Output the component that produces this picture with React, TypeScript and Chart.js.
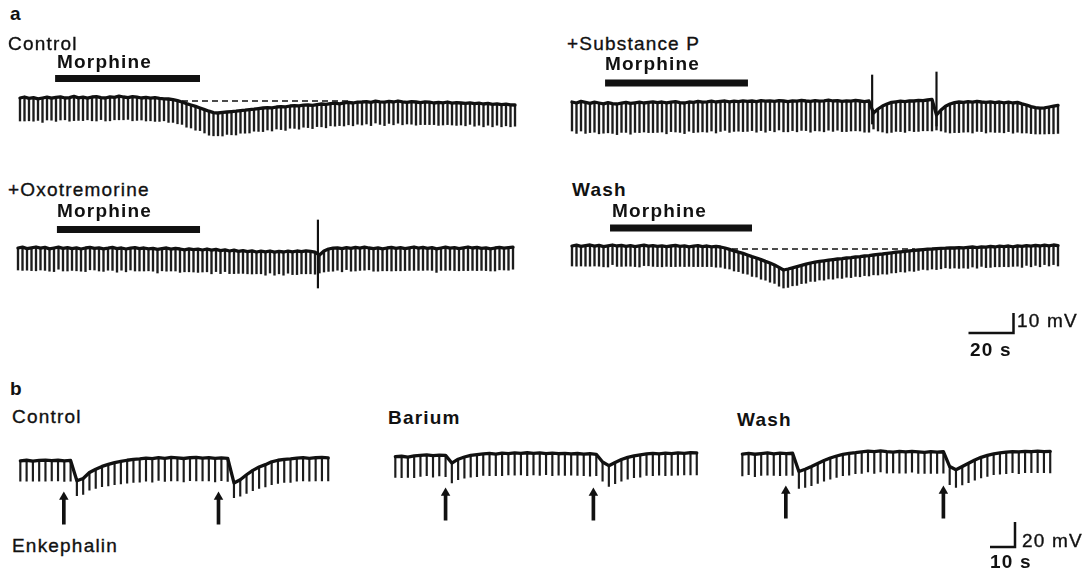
import React, { useEffect, useRef } from "react";
import { Chart, registerables } from "chart.js";
Chart.register(...registerables);

// ================= DATA =================
// Panel a: hyperpolarizing pulses every 2 s; membrane potential in mV relative to resting level
const A_PULSE_INTERVAL_S = 2;
// Panel b: pulses every 2.6 s
const B_PULSE_INTERVAL_S = 2.6;

// a — Control
const CA_BASE = [
  1.0, 1.5, 0.8, 1.2, 0.6, 1.0, 1.4, 0.9, 1.3, 1.6, 1.0, 1.2, 1.8, 1.1, 1.4, 0.9, 1.5, 1.7, 1.2, 1.0,
  1.6, 1.3, 1.9, 1.5, 1.2, 1.7, 1.4, 1.0, 1.3, 0.9, 1.2, 0.8, 0.6, 0.5, 0.2,
  -0.3, -1.0, -1.8, -2.5, -3.2, -4.0, -4.8, -5.6, -6.3,
  -6.5, -6.2, -6.0, -5.8,
  -5.6, -5.3, -5.1, -4.8, -4.6, -4.3, -4.0,
  -3.8, -3.9, -3.5, -3.3, -3.4, -3.0, -2.8, -2.9, -2.6, -2.5, -2.7,
  -2.3, -2.0, -2.2, -1.8, -1.6, -1.9, -1.4, -1.2, -1.5, -1.1, -1.0,
  -0.8, -1.2, -0.6, -0.9, -1.1, -0.7, -1.0, -0.5, -0.9, -1.2, -0.8, -1.0,
  -1.3, -0.9, -1.1, -1.5, -1.2, -1.4, -1.0, -1.6, -1.3, -1.5, -1.7,
  -1.4, -1.8, -1.6, -2.0, -1.7, -2.2, -1.9, -2.3, -2.1, -2.4, -2.5,
];
const CA_DEPTH = [
  11.5, 12.0, 11.2, 11.8, 10.8, 12.2, 11.4, 11.0, 12.0, 11.6, 10.9, 11.8, 12.1, 11.3, 11.7, 10.8, 11.9, 12.2, 11.0, 11.5,
  12.0, 11.2, 11.8, 11.4, 10.9, 12.1, 11.6, 11.0, 11.8, 11.3, 11.9, 11.5, 11.0, 11.7, 11.4,
  11.6, 11.2, 11.8, 11.5, 11.9, 11.3, 11.7, 12.0, 11.6,
  11.4, 11.8, 11.2, 11.6, 11.9, 11.3, 11.5, 11.7, 11.0, 11.4, 11.8,
  11.2, 11.6, 11.0, 11.5, 11.8, 11.1, 11.4, 11.7, 11.0, 11.3, 11.6,
  11.0, 11.4, 11.7, 11.1, 11.5, 10.9, 11.6, 11.2, 11.4, 11.0, 11.5,
  11.2, 11.6, 10.9, 11.3, 11.7, 11.0, 11.4, 11.1, 11.5, 10.8, 11.3, 11.6,
  11.0, 11.4, 11.2, 10.8, 11.5, 11.1, 11.3, 10.9, 11.4, 11.0, 11.2,
  10.8, 11.3, 11.0, 11.4, 10.9, 11.2, 10.7, 11.1, 10.8, 11.0, 10.6,
];
const CA_MORPHINE_S = [15.6, 80.0];
const CA_DASH_S = [72, 146];
const CA_DASH_MV = -0.5;

// a — +Substance P
const SP_BASE = [
  0.5, 0.0, 0.8, 0.3, -0.2, 0.4, 0.0, -0.4, 0.2, -0.3,
  -0.5, -0.1, 0.3, -0.2, 0.1, 0.4, 0.0, 0.3, 0.6, 0.2,
  0.5, 0.1, 0.4, 0.7, 0.2, 0.0, 0.5, 0.3, 0.8, 0.4,
  0.6, 0.9, 0.5, 0.8, 1.0, 0.6, 0.9, 0.7, 1.1, 0.8,
  1.0, 0.7, 1.2, 0.9, 1.1, 0.8, 1.2, 1.0, 0.7, 1.1,
  0.9, 1.3, 1.0, 0.8, 1.2, 0.9, 1.1, 1.4, 1.0, 1.2,
  0.8, 1.1, 0.9, 1.3, 1.0, 0.7, 1.0,
  -5.0, -3.0, -1.5, -0.5,
  0.3, 0.6, 0.9, 0.7, 1.1, 1.0, 1.3, 1.2, 1.5, 1.8,
  -6.0, -3.5, -1.6, -0.5,
  0.2, 0.5, 0.3, 0.7, 0.4, 0.8, 0.5, 0.3, 0.6, 0.2, 0.5, 0.1, 0.4, 0.0, 0.3,
  -0.4, -1.0, -1.8, -2.3, -2.6, -2.4, -2.0, -1.6, -1.2,
];
const SP_DEPTH = [
  14.5, 15.2, 14.8, 15.5, 14.6, 15.0, 15.4, 14.7, 15.1, 14.9,
  15.3, 14.6, 15.0, 15.4, 14.8, 15.2, 14.5, 15.1, 15.4, 14.9,
  15.0, 15.5, 14.7, 15.2, 14.9, 15.3, 14.6, 15.1, 15.4, 14.8,
  15.2, 14.9, 15.5, 15.0, 14.7, 15.3, 15.1, 14.8, 15.4, 15.0,
  14.8, 15.3, 15.0, 15.5, 14.9, 15.2, 14.7, 15.4, 15.1, 14.9,
  15.3, 15.0, 14.8, 15.4, 15.1, 14.9, 15.5, 15.0, 15.2, 14.8,
  15.1, 15.4, 14.9, 15.2, 15.0, 15.3, 15.6,
  8.0, 11.0, 13.0, 14.5,
  15.0, 14.8, 15.2, 15.4, 15.0, 15.3, 15.5, 15.1, 15.4, 15.8,
  7.5, 10.5, 13.0, 14.5,
  15.0, 15.3, 14.9, 15.2, 15.4, 15.0, 14.8, 15.3, 15.1, 14.9, 15.2, 15.0, 14.7, 15.1, 14.9,
  14.6, 14.0, 13.5, 13.2, 12.9, 13.1, 13.4, 13.8, 14.0,
];
const SP_MORPHINE_S = [14.7, 78.2];
const SP_SPIKE_T = [133.4, 162.0];
const SP_SPIKE_TOP = [14.0, 15.5];
const SP_SPIKE_BOTTOM = [-10.5, -11.5];

// a — +Oxotremorine
const OX_BASE = [
  0.5, 0.9, 0.2, 0.6, 1.0, 0.4, 0.8, 0.1, 0.5, 0.9,
  0.3, 0.7, 0.2, 0.6, 0.0, 0.5, 0.8, 0.3, 0.6, 0.1,
  0.4, 0.8, 0.2, 0.5, 0.0, 0.4, 0.7, 0.2, 0.5, 0.1,
  0.3, -0.2, 0.2, 0.5, -0.1, 0.3, 0.0, -0.4, 0.1, -0.3,
  -0.1, -0.5, 0.0, -0.6, -0.2, -0.8, -0.4, -1.0, -0.6, -1.2,
  -0.8, -1.3, -0.9, -1.5, -1.1, -1.4, -1.0, -1.6, -1.2, -1.5,
  -1.1, -1.4, -1.0, -1.3, -0.9, -1.2, -1.6,
  -3.0, -1.0, 0.0, 0.4,
  0.6, 0.2, 0.7, 0.3, 0.8, 0.4, 0.9, 0.5, 0.2, 0.6,
  0.1, 0.5, 0.8, 0.3, 0.7, 0.2, 0.6, 1.0, 0.4, 0.8,
  0.3, 0.7, 0.1, 0.5, 0.9, 0.4, 0.7, 0.2, 0.6, 1.0,
  0.5, 0.8, 0.3, 0.6, 0.1, 0.5, 0.8, 0.4, 0.7, 0.9,
];
const OX_DEPTH = [
  11.0, 11.6, 10.8, 11.4, 11.9, 10.9, 11.5, 11.2, 11.8, 11.0,
  11.3, 11.7, 10.9, 11.5, 11.1, 11.8, 11.2, 10.8, 11.6, 11.3,
  11.0, 11.5, 11.8, 11.1, 11.4, 10.9, 11.7, 11.2, 11.5, 11.0,
  11.4, 11.8, 11.1, 11.6, 10.9, 11.3, 11.7, 11.0, 11.5, 11.2,
  11.6, 11.0, 11.4, 11.8, 11.1, 11.5, 10.9, 11.3, 11.7, 11.0,
  11.4, 11.1, 11.6, 10.9, 11.3, 11.7, 11.0, 11.5, 11.2, 11.6,
  11.0, 11.4, 11.8, 11.1, 11.5, 11.2, 11.0,
  9.0, 10.5, 11.2, 11.5,
  11.2, 11.6, 11.0, 11.4, 11.8, 11.1, 11.5, 10.9, 11.3, 11.7,
  11.0, 11.4, 11.8, 11.2, 11.6, 11.0, 11.3, 11.7, 11.1, 11.5,
  10.9, 11.4, 11.8, 11.2, 11.6, 11.0, 11.5, 11.1, 11.4, 11.8,
  11.2, 11.6, 11.0, 11.4, 11.1, 11.5, 11.2, 10.9, 11.3, 11.0,
];
const OX_MORPHINE_S = [17.3, 80.9];
const OX_SPIKE_T = [133.3];
const OX_SPIKE_TOP = [14.5];
const OX_SPIKE_BOTTOM = [-19.5];

// a — Wash
const WA_BASE = [
  0.5, 0.9, 0.3, 0.7, 1.0, 0.4, 0.8, 0.2, 0.6, 1.0,
  0.5, 0.8, 0.3, 0.7, 0.2, 0.6, 0.9, 0.4, 0.7, 0.3,
  0.6, 0.2, 0.5, 0.8, 0.3, 0.6, 0.1, 0.4, 0.7, 0.2,
  0.5, 0.1, 0.3, 0.0,
  -0.5, -1.2, -1.9, -2.6, -3.2, -4.0, -4.8, -5.5, -6.3, -7.2, -8.0, -9.0, -10.2, -11.5,
  -11.0, -10.4, -9.8, -9.2, -8.6, -8.0, -7.6, -7.2, -6.9, -6.6,
  -6.3, -6.0, -5.8, -5.5, -5.3, -5.0, -4.8, -4.5, -4.3, -4.0, -3.7, -3.5, -3.2, -2.9, -2.6,
  -2.4, -2.2, -1.9, -1.7, -1.5, -1.3, -1.1, -1.0, -0.8, -0.7, -0.6, -0.4, -0.5, -0.3, -0.4,
  -0.2, 0.0, -0.3, 0.1, -0.1, 0.3, 0.0, 0.4, 0.2, 0.5, 0.1, 0.6, 0.3, 0.7, 0.4, 0.8, 0.5, 0.9, 0.6, 1.0, 0.7,
];
const WA_DEPTH = [
  10.0, 10.5, 9.8, 10.3, 10.6, 9.9, 10.4, 10.1, 10.6, 9.8,
  10.2, 10.5, 9.9, 10.3, 10.0, 10.6, 10.2, 9.8, 10.4, 10.1,
  10.5, 9.9, 10.3, 10.6, 10.0, 10.4, 9.8, 10.2, 10.5, 10.0,
  10.3, 9.9, 10.4, 10.1,
  10.2, 9.8, 10.1, 9.7, 10.0, 9.6, 9.9, 9.5, 9.8, 9.4, 9.6, 9.2, 9.4, 9.0,
  9.2, 9.0, 9.4, 9.1, 9.5, 9.2, 9.6, 9.3, 9.7, 9.4,
  9.8, 9.5, 9.9, 9.6, 10.0, 9.7, 10.1, 9.8, 10.2, 9.9, 10.3, 10.0, 10.4, 10.1, 10.3,
  10.0, 10.4, 10.1, 10.5, 10.2, 9.9, 10.4, 10.0, 10.5, 10.2, 9.8, 10.3, 10.0, 10.4, 10.1,
  10.5, 10.0, 10.3, 9.8, 10.2, 10.5, 9.9, 10.3, 10.0, 10.4, 9.8, 10.2, 10.5, 9.9, 10.3, 10.0, 10.4, 9.7, 10.1, 9.8, 10.2,
];
const WA_MORPHINE_S = [16.9, 80.0];
const WA_DASH_S = [71.1, 152.4];
const WA_DASH_MV = -1.0;

// b — Control
const CB_BASE = [
  -2.4, -1.8, -2.6, -2.0, -1.6, -2.2, -1.8, -2.4,
  -2.0,
  -20.5, -18.4, -13.0, -10.0, -7.4, -5.6, -4.0, -2.9, -1.8, -1.0, -0.6,
  0.2, -0.4, 0.6, 0.0, 0.8, 0.3, -0.2, 0.5, 0.9, 0.2, 0.6, -0.1, 0.4, 0.0,
  -22.5, -19.5, -15.0, -11.0, -8.0, -5.8, -3.2, -1.8, -1.0, -0.5,
  0.2, 0.6, 0.0, 0.5, 0.8, 0.3,
];
const CB_DEPTH = [
  18.5, 19.0, 18.2, 18.8, 19.2, 18.4, 18.9, 18.6,
  18.8,
  13.5, 14.5, 16.0, 17.5, 18.5, 19.5, 20.0, 20.5, 20.8, 21.0, 21.2,
  21.0, 21.4, 20.8, 21.2, 21.5, 20.9, 21.3, 21.0, 21.6, 20.8, 21.2, 21.4, 20.9, 21.1,
  13.5, 15.0, 17.0, 18.5, 19.5, 20.2, 20.8, 21.2, 21.0, 21.4,
  21.0, 21.3, 20.8, 21.2, 21.5, 21.0,
];
const CB_ENKEPHALIN_S = [18.0, 82.0];

// b — Barium
const BB_BASE = [
  -2.2, -1.8, -2.5, -1.5, -1.0, -0.6, -1.2, -0.8,
  -1.0,
  -8.0, -4.5, -2.5, -1.0, -0.3,
  0.4, 0.8, 0.2, 1.0, 0.6, 1.2, 0.8, 1.4, 0.9, 1.2, 0.6, 1.0, 0.5, 0.9, 0.3, 0.7, 0.2, 0.5, 0.0,
  -7.0, -10.4, -7.5, -4.8, -2.8, -1.5, -0.5,
  0.3, 0.8, 0.4, 1.0, 0.6, 1.2, 0.9, 1.5, 1.2,
];
const BB_DEPTH = [
  19.0, 19.5, 18.6, 19.8, 19.2, 18.8, 19.6, 19.0, 19.4, 18.0,
  18.6, 19.2, 19.8, 20.2, 19.6, 20.4, 19.8, 20.6, 19.4, 20.2,
  19.6, 20.8, 19.8, 20.4, 19.2, 20.6, 19.6, 20.2, 19.4, 20.0,
  19.8, 20.4, 19.6, 17.5, 18.8, 19.2, 19.6, 20.0, 19.8, 20.4,
  19.6, 20.2, 19.4, 20.6, 19.8, 20.2, 19.6, 20.4, 20.0,
];
const BB_ENKEPHALIN_S = [20.8, 82.0];

// b — Wash
const WB_BASE = [
  -1.6, -1.0, -1.8, -1.2, -0.6, -1.4, -0.8, -1.2, -0.9,
  -17.5, -15.5, -13.0, -10.2, -7.5, -5.2, -3.4, -2.0, -1.0, -0.4,
  0.4, 1.0, 0.5, 1.2, 0.6, 0.2, 0.8, 0.3, 0.9, 0.4, 0.0, 0.6, 0.2, 0.5,
  -13.0, -16.0, -13.0, -10.0, -7.0, -4.6, -2.8, -1.4, -0.6,
  0.2, 0.6, 0.3, 0.9, 0.5, 1.0, 0.6, 0.9,
];
const WB_DEPTH = [
  20.0, 19.4, 20.4, 19.8, 20.2, 19.6, 20.6, 19.8, 20.2,
  15.5, 16.5, 17.5, 18.2, 18.8, 19.2, 19.6, 19.4, 19.8, 19.2,
  19.6, 19.0, 19.8, 19.2, 19.6, 19.0, 19.8, 19.4, 19.0, 19.6, 19.2, 19.8, 19.4, 19.6,
  16.5, 16.0, 16.8, 17.6, 18.4, 18.8, 19.2, 19.0, 19.4,
  19.6, 19.2, 19.8, 19.4, 19.0, 19.6, 19.2, 19.8,
];
const WB_ENKEPHALIN_S = [18.0, 83.2];

// Calibration bars
const SCALE_A = { seconds: 20, mV: 10 };
const SCALE_B = { seconds: 10, mV: 20 };

// ================= LAYOUT / STYLE =================
const INK = "#111";
const PULSE_INK = "#1c1c1c";
const FONT = '"Liberation Sans", Arial, Helvetica, sans-serif';

type Frame = {
  x0: number; y0: number; pxPerS: number; pxPerMV: number;
  tMin: number; tMax: number; vMin: number; vMax: number;
};

const A_PX_S = 2.25;
const A_PX_MV = 2;
const B_PX_S = 2.5;
const B_PX_MV = 1.25;

const FRAME_CA: Frame = { x0: 20, y0: 100, pxPerS: A_PX_S, pxPerMV: A_PX_MV, tMin: -4, tMax: 224, vMin: -22, vMax: 16 };
const FRAME_SP: Frame = { x0: 572, y0: 103, pxPerS: A_PX_S, pxPerMV: A_PX_MV, tMin: -4, tMax: 220, vMin: -20, vMax: 20 };
const FRAME_OX: Frame = { x0: 18, y0: 249, pxPerS: A_PX_S, pxPerMV: A_PX_MV, tMin: -4, tMax: 224, vMin: -24, vMax: 18 };
const FRAME_WA: Frame = { x0: 572, y0: 247, pxPerS: A_PX_S, pxPerMV: A_PX_MV, tMin: -4, tMax: 220, vMin: -24, vMax: 14 };
const FRAME_CB: Frame = { x0: 15, y0: 454, pxPerS: B_PX_S, pxPerMV: B_PX_MV, tMin: -2, tMax: 130, vMin: -64, vMax: 8 };
const FRAME_BB: Frame = { x0: 390, y0: 450, pxPerS: B_PX_S, pxPerMV: B_PX_MV, tMin: -2, tMax: 128, vMin: -64, vMax: 8 };
const FRAME_WB: Frame = { x0: 737, y0: 448, pxPerS: B_PX_S, pxPerMV: B_PX_MV, tMin: -2, tMax: 130, vMin: -64, vMax: 8 };
const FRAME_SCALE_A: Frame = { x0: 968, y0: 333, pxPerS: A_PX_S, pxPerMV: A_PX_MV, tMin: -2, tMax: 22, vMin: -2, vMax: 12 };
const FRAME_SCALE_B: Frame = { x0: 990, y0: 547, pxPerS: B_PX_S, pxPerMV: B_PX_MV, tMin: -2, tMax: 12, vMin: -4, vMax: 24 };

const MORPHINE_LEVEL = { CA: 10.75, SP: 10, OX: 9.75, WA: 9.5 };
const ARROW_TIP_MV = -31;
const ARROW_TAIL_MV = -60;
const ARROW_HEAD_R = 5.5;

// ================= DATASET BUILDERS =================
function traceSets(base: number[], depth: number[], dt: number, pulseW: number, lineW: number) {
  const t = base.map((_, i) => i * dt);
  return [
    {
      type: "line",
      data: t.map((x, i) => ({ x, y: base[i] })),
      borderColor: INK,
      borderWidth: lineW,
      borderJoinStyle: "round",
      borderCapStyle: "round",
      pointRadius: 0,
      tension: 0,
      order: 0,
    },
    {
      type: "bar",
      data: t.map((x, i) => ({ x, y: [base[i] - depth[i], base[i]] })),
      backgroundColor: PULSE_INK,
      barThickness: pulseW,
      grouped: false,
      borderWidth: 0,
      order: 3,
    },
  ];
}

function drugBar(win: number[], level: number) {
  return {
    type: "line",
    data: [{ x: win[0], y: level }, { x: win[1], y: level }],
    borderColor: INK,
    borderWidth: 7,
    borderCapStyle: "butt",
    pointRadius: 0,
    order: 1,
  };
}

function dashed(win: number[], level: number) {
  return {
    type: "line",
    data: [{ x: win[0], y: level }, { x: win[1], y: level }],
    borderColor: INK,
    borderWidth: 1.6,
    borderDash: [6, 4],
    pointRadius: 0,
    order: 1,
  };
}

function spikes(ts: number[], top: number[], bottom: number[]) {
  return {
    type: "bar",
    data: ts.map((x, i) => ({ x, y: [bottom[i], top[i]] })),
    backgroundColor: INK,
    barThickness: 1.5,
    grouped: false,
    borderWidth: 0,
    order: 2,
  };
}

function arrows(ts: number[], pxPerMV: number) {
  const center = ARROW_TIP_MV - ARROW_HEAD_R / pxPerMV;
  const headBase = center - (ARROW_HEAD_R / 2) / pxPerMV;
  return [
    {
      type: "bar",
      data: ts.map((x) => ({ x, y: [ARROW_TAIL_MV, headBase + 0.5] })),
      backgroundColor: INK,
      barThickness: 3,
      grouped: false,
      borderWidth: 0,
      order: 2,
    },
    {
      type: "line",
      showLine: false,
      data: ts.map((x) => ({ x, y: center })),
      pointStyle: "triangle",
      pointRadius: ARROW_HEAD_R,
      pointBackgroundColor: INK,
      pointBorderColor: INK,
      pointBorderWidth: 0,
      order: 1,
    },
  ];
}

function scaleBar(s: { seconds: number; mV: number }) {
  return [
    {
      type: "line",
      data: [{ x: 0, y: 0 }, { x: s.seconds, y: 0 }, { x: s.seconds, y: s.mV }],
      borderColor: INK,
      borderWidth: 2.5,
      borderJoinStyle: "miter",
      borderCapStyle: "butt",
      pointRadius: 0,
      tension: 0,
    },
  ];
}

// ================= COMPONENTS =================
function Plot({ frame, datasets }: { frame: Frame; datasets: any[] }) {
  const ref = useRef<HTMLCanvasElement | null>(null);
  const w = Math.round((frame.tMax - frame.tMin) * frame.pxPerS);
  const h = Math.round((frame.vMax - frame.vMin) * frame.pxPerMV);
  const left = frame.x0 + frame.tMin * frame.pxPerS;
  const top = frame.y0 - frame.vMax * frame.pxPerMV;
  useEffect(() => {
    if (!ref.current) return;
    const chart = new Chart(ref.current, {
      type: "line",
      data: { datasets: datasets as any },
      options: {
        responsive: false,
        maintainAspectRatio: false,
        animation: false,
        events: [],
        layout: { padding: 0 },
        plugins: { legend: { display: false }, tooltip: { enabled: false } },
        scales: {
          x: { type: "linear", min: frame.tMin, max: frame.tMax, display: false, offset: false },
          y: { type: "linear", min: frame.vMin, max: frame.vMax, display: false },
        },
      },
    } as any);
    return () => chart.destroy();
  }, []);
  return (
    <canvas
      ref={ref}
      width={w}
      height={h}
      style={{ position: "absolute", left, top, width: w, height: h }}
    />
  );
}

const LABEL_SIZE = 19;
type Lbl = { text: string; x: number; baseline: number; bold?: boolean };
const LABELS: Lbl[] = [
  { text: "a", x: 10, baseline: 20, bold: true },
  { text: "Control", x: 8, baseline: 50 },
  { text: "Morphine", x: 57, baseline: 68, bold: true },
  { text: "+Substance P", x: 567, baseline: 50 },
  { text: "Morphine", x: 605, baseline: 70, bold: true },
  { text: "+Oxotremorine", x: 8, baseline: 196 },
  { text: "Morphine", x: 57, baseline: 217, bold: true },
  { text: "Wash", x: 572, baseline: 196, bold: true },
  { text: "Morphine", x: 612, baseline: 217, bold: true },
  { text: "10 mV", x: 1017, baseline: 327 },
  { text: "20 s", x: 970, baseline: 356, bold: true },
  { text: "b", x: 10, baseline: 395, bold: true },
  { text: "Control", x: 12, baseline: 423 },
  { text: "Barium", x: 388, baseline: 424, bold: true },
  { text: "Wash", x: 737, baseline: 426, bold: true },
  { text: "Enkephalin", x: 12, baseline: 552 },
  { text: "20 mV", x: 1022, baseline: 547 },
  { text: "10 s", x: 990, baseline: 568, bold: true },
];

function Label({ l }: { l: Lbl }) {
  return (
    <div
      style={{
        position: "absolute",
        left: l.x,
        top: l.baseline - 0.8466 * LABEL_SIZE,
        fontFamily: FONT,
        fontSize: LABEL_SIZE,
        lineHeight: `${LABEL_SIZE}px`,
        fontWeight: l.bold ? 700 : 400,
        letterSpacing: "1.2px",
        whiteSpace: "nowrap",
        color: INK,
        WebkitTextStroke: l.bold ? "0px" : `0.35px ${INK}`,
      }}
    >
      {l.text}
    </div>
  );
}

export default function App() {
  const aDt = A_PULSE_INTERVAL_S;
  const bDt = B_PULSE_INTERVAL_S;
  return (
    <div
      style={{
        position: "absolute",
        left: 0,
        top: 0,
        width: 1092,
        height: 570,
        background: "#fff",
        overflow: "hidden",
      }}
    >
      <Plot
        frame={FRAME_CA}
        datasets={[
          ...traceSets(CA_BASE, CA_DEPTH, aDt, 1.7, 3.3),
          drugBar(CA_MORPHINE_S, MORPHINE_LEVEL.CA),
          dashed(CA_DASH_S, CA_DASH_MV),
        ]}
      />
      <Plot
        frame={FRAME_SP}
        datasets={[
          ...traceSets(SP_BASE, SP_DEPTH, aDt, 1.7, 3.3),
          drugBar(SP_MORPHINE_S, MORPHINE_LEVEL.SP),
          spikes(SP_SPIKE_T, SP_SPIKE_TOP, SP_SPIKE_BOTTOM),
        ]}
      />
      <Plot
        frame={FRAME_OX}
        datasets={[
          ...traceSets(OX_BASE, OX_DEPTH, aDt, 1.7, 3.3),
          drugBar(OX_MORPHINE_S, MORPHINE_LEVEL.OX),
          spikes(OX_SPIKE_T, OX_SPIKE_TOP, OX_SPIKE_BOTTOM),
        ]}
      />
      <Plot
        frame={FRAME_WA}
        datasets={[
          ...traceSets(WA_BASE, WA_DEPTH, aDt, 1.7, 3.3),
          drugBar(WA_MORPHINE_S, MORPHINE_LEVEL.WA),
          dashed(WA_DASH_S, WA_DASH_MV),
        ]}
      />
      <Plot frame={FRAME_CB} datasets={[...traceSets(CB_BASE, CB_DEPTH, bDt, 1.5, 3.3), ...arrows(CB_ENKEPHALIN_S, B_PX_MV)]} />
      <Plot frame={FRAME_BB} datasets={[...traceSets(BB_BASE, BB_DEPTH, bDt, 1.5, 3.3), ...arrows(BB_ENKEPHALIN_S, B_PX_MV)]} />
      <Plot frame={FRAME_WB} datasets={[...traceSets(WB_BASE, WB_DEPTH, bDt, 1.5, 3.3), ...arrows(WB_ENKEPHALIN_S, B_PX_MV)]} />
      <Plot frame={FRAME_SCALE_A} datasets={scaleBar(SCALE_A)} />
      <Plot frame={FRAME_SCALE_B} datasets={scaleBar(SCALE_B)} />
      {LABELS.map((l, i) => (
        <Label key={i} l={l} />
      ))}
    </div>
  );
}
